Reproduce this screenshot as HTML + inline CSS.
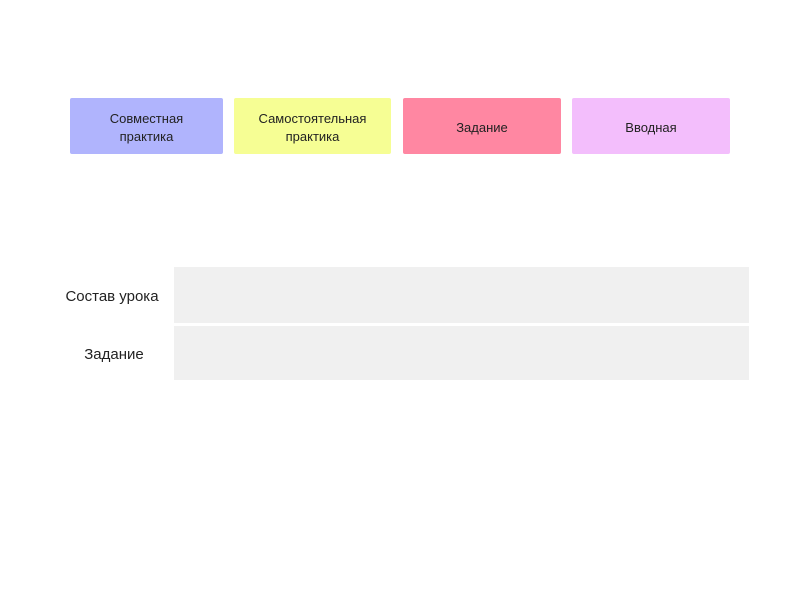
<!DOCTYPE html>
<html><head><meta charset="utf-8"><style>
body{margin:0;width:800px;height:600px;background:#fff;position:relative;font-family:"Liberation Sans","DejaVu Sans",sans-serif;color:#222;overflow:hidden}
.b{position:absolute;display:flex;align-items:center;justify-content:center;text-align:center;font-size:13px;line-height:18px;border-radius:2px;padding-top:3px;box-sizing:border-box}
.r{position:absolute;background:#f0f0f0}
.l{position:absolute;font-size:15px;width:120px;text-align:center}
</style></head><body>
<div class="b" style="left:70px;top:98px;width:153px;height:56px;background:#b0b4fd">Совместная<br>практика</div>
<div class="b" style="left:234px;top:98px;width:157px;height:56px;background:#f6fe94">Самостоятельная<br>практика</div>
<div class="b" style="left:403px;top:98px;width:158px;height:56px;background:#ff87a2">Задание</div>
<div class="b" style="left:572px;top:98px;width:158px;height:56px;background:#f3befc">Вводная</div>
<div class="r" style="left:174px;top:267px;width:575px;height:56px"></div>
<div class="r" style="left:174px;top:326px;width:575px;height:54px"></div>
<div class="l" style="left:52px;top:288px">Состав урока</div>
<div class="l" style="left:54px;top:346px">Задание</div>
</body></html>
